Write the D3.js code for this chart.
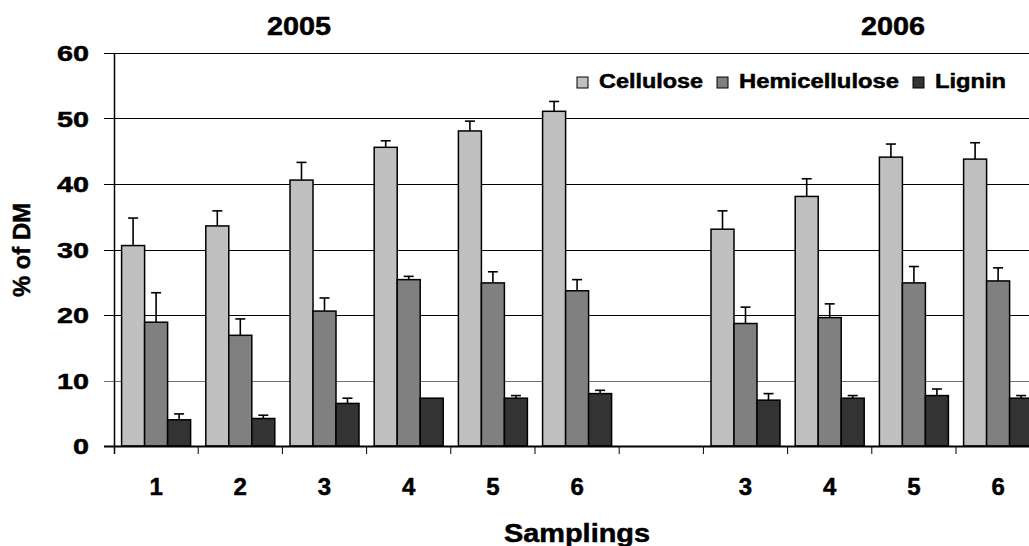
<!DOCTYPE html>
<html>
<head>
<meta charset="utf-8">
<script src="https://cdn.jsdelivr.net/npm/d3@7"></script>
<style>
  body { margin: 0; background: #fff; }
  svg text { font-family: "Liberation Sans", Arial, sans-serif; font-weight: bold; fill: #000; stroke: #000; stroke-width: 0.5px; }
</style>
</head>
<body>
<div id="chart"></div>
<script>
'use strict';

// samplings (slot 7 is the empty gap between the two years)
var slots = ['05-1', '05-2', '05-3', '05-4', '05-5', '05-6', 'gap', '06-3', '06-4', '06-5', '06-6'];
var slotLabels = ['1', '2', '3', '4', '5', '6', '', '3', '4', '5', '6'];
var seriesNames = ['Cellulose', 'Hemicellulose', 'Lignin'];
var seriesColors = ['#c0c0c0', '#808080', '#333333'];

var cellulose = [30.6, 33.6, 40.6, 45.6, 48.1, 51.1, null, 33.1, 38.1, 44.1, 43.8];
var celluloseErr = [4.2, 2.3, 2.7, 1.0, 1.5, 1.5, null, 2.8, 2.7, 2.0, 2.5];
var hemicellulose = [18.9, 16.9, 20.6, 25.4, 24.9, 23.7, null, 18.7, 19.6, 24.9, 25.2];
var hemicelluloseErr = [4.5, 2.5, 2.0, 0.5, 1.7, 1.7, null, 2.5, 2.1, 2.5, 2.0];
var lignin = [4.0, 4.2, 6.5, 7.3, 7.3, 8.0, null, 7.0, 7.3, 7.7, 7.3];
var ligninErr = [0.9, 0.5, 0.8, 0, 0.4, 0.5, null, 1.0, 0.4, 1.0, 0.4];

var yTicks = [0, 10, 20, 30, 40, 50, 60];
var years = [{ label: '2005', x: 299 }, { label: '2006', x: 893 }];

var W = 1029, H = 546;
var plotLeft = 114, plotTop = 53, plotBottom = 446, slotW = 84.2;

var svg = d3.select('#chart').append('svg')
  .attr('width', W)
  .attr('height', H);

var x = d3.scaleBand()
  .domain(slots)
  .range([plotLeft, plotLeft + slots.length * slotW])
  .paddingInner(0)
  .paddingOuter(0);

var inner = d3.scaleBand()
  .domain(seriesNames)
  .range([7.6, slotW - 7.6]);

var y = d3.scaleLinear()
  .domain([0, 60])
  .range([plotBottom, plotTop]);

// gridlines
svg.append('g')
  .selectAll('line')
  .data(yTicks)
  .join('line')
  .attr('x1', plotLeft - 10)
  .attr('x2', W)
  .attr('y1', function(d) { return Math.round(y(d)) + 0.5; })
  .attr('y2', function(d) { return Math.round(y(d)) + 0.5; })
  .attr('stroke', function(d) { return d === 10 ? '#707070' : '#000'; })
  .attr('stroke-width', 1.2);

// y tick labels
svg.append('g')
  .selectAll('text')
  .data(yTicks)
  .join('text')
  .attr('x', 89)
  .attr('y', function(d) { return y(d) + 8; })
  .attr('text-anchor', 'end')
  .style('font-size', '22px')
  .attr('textLength', function(d) { return String(d).length * 16; })
  .attr('lengthAdjust', 'spacingAndGlyphs')
  .text(function(d) { return d; });

// bars
var series = [
  { name: 'Cellulose', values: cellulose, err: celluloseErr },
  { name: 'Hemicellulose', values: hemicellulose, err: hemicelluloseErr },
  { name: 'Lignin', values: lignin, err: ligninErr }
];

var rows = [];
series.forEach(function(s, si) {
  slots.forEach(function(slot, i) {
    if (s.values[i] == null) return;
    rows.push({ slot: slot, name: s.name, color: seriesColors[si], v: s.values[i], e: s.err[i] });
  });
});

// error bars (upper only)
var eb = svg.append('g').selectAll('g')
  .data(rows.filter(function(d) { return d.e > 0; }))
  .join('g');
eb.append('line')
  .attr('x1', function(d) { return x(d.slot) + inner(d.name) + inner.bandwidth() / 2; })
  .attr('x2', function(d) { return x(d.slot) + inner(d.name) + inner.bandwidth() / 2; })
  .attr('y1', function(d) { return y(d.v); })
  .attr('y2', function(d) { return y(d.v + d.e); })
  .attr('stroke', '#000')
  .attr('stroke-width', 1.6);
eb.append('line')
  .attr('x1', function(d) { return x(d.slot) + inner(d.name) + inner.bandwidth() / 2 - 5; })
  .attr('x2', function(d) { return x(d.slot) + inner(d.name) + inner.bandwidth() / 2 + 5; })
  .attr('y1', function(d) { return y(d.v + d.e); })
  .attr('y2', function(d) { return y(d.v + d.e); })
  .attr('stroke', '#000')
  .attr('stroke-width', 1.6);

svg.append('g')
  .selectAll('rect')
  .data(rows)
  .join('rect')
  .attr('x', function(d) { return x(d.slot) + inner(d.name); })
  .attr('y', function(d) { return y(d.v); })
  .attr('width', inner.bandwidth())
  .attr('height', function(d) { return y(0) - y(d.v); })
  .attr('fill', function(d) { return d.color; })
  .attr('stroke', '#000')
  .attr('stroke-width', 1.5);

// axes lines
svg.append('line')
  .attr('x1', plotLeft + 0.5).attr('x2', plotLeft + 0.5)
  .attr('y1', plotTop).attr('y2', plotBottom + 8)
  .attr('stroke', '#000').attr('stroke-width', 1.5);
svg.append('line')
  .attr('x1', plotLeft - 10).attr('x2', W)
  .attr('y1', Math.round(y(0)) + 0.5).attr('y2', Math.round(y(0)) + 0.5)
  .attr('stroke', '#000').attr('stroke-width', 1.8);

// x ticks at slot boundaries
svg.append('g')
  .selectAll('line')
  .data(slots.slice(1))
  .join('line')
  .attr('x1', function(d) { return x(d); })
  .attr('x2', function(d) { return x(d); })
  .attr('y1', plotBottom)
  .attr('y2', plotBottom + 8)
  .attr('stroke', '#000')
  .attr('stroke-width', 1);

// x tick labels
svg.append('g')
  .selectAll('text')
  .data(slots)
  .join('text')
  .attr('x', function(d) { return x(d) + x.bandwidth() / 2; })
  .attr('y', 495)
  .attr('text-anchor', 'middle')
  .style('font-size', '24px')
  .text(function(d, i) { return slotLabels[i]; });

// year titles
svg.append('g')
  .selectAll('text')
  .data(years)
  .join('text')
  .attr('x', function(d) { return d.x; })
  .attr('y', 35)
  .attr('text-anchor', 'middle')
  .style('font-size', '25px')
  .attr('textLength', 64)
  .attr('lengthAdjust', 'spacingAndGlyphs')
  .text(function(d) { return d.label; });

// axis titles
svg.append('text')
  .attr('x', 577)
  .attr('y', 542)
  .attr('text-anchor', 'middle')
  .style('font-size', '25px')
  .attr('textLength', 146)
  .attr('lengthAdjust', 'spacingAndGlyphs')
  .text('Samplings');

svg.append('text')
  .attr('transform', 'translate(30,250) rotate(-90)')
  .attr('text-anchor', 'middle')
  .style('font-size', '24px')
  .attr('textLength', 94)
  .attr('lengthAdjust', 'spacingAndGlyphs')
  .text('% of DM');

// legend
var legendX = [577, 717, 913];
var legendW = [104, 160, 71];
var lg = svg.append('g').selectAll('g')
  .data(seriesNames)
  .join('g')
  .attr('transform', function(d, i) { return 'translate(' + legendX[i] + ',0)'; });
lg.append('rect')
  .attr('x', 0).attr('y', 77)
  .attr('width', 11).attr('height', 11)
  .attr('fill', function(d, i) { return seriesColors[i]; })
  .attr('stroke', '#000')
  .attr('stroke-width', 1);
lg.append('text')
  .attr('x', 22)
  .attr('y', 88)
  .style('font-size', '20px')
  .attr('textLength', function(d, i) { return legendW[i]; })
  .attr('lengthAdjust', 'spacingAndGlyphs')
  .text(function(d) { return d; });
</script>
</body>
</html>
